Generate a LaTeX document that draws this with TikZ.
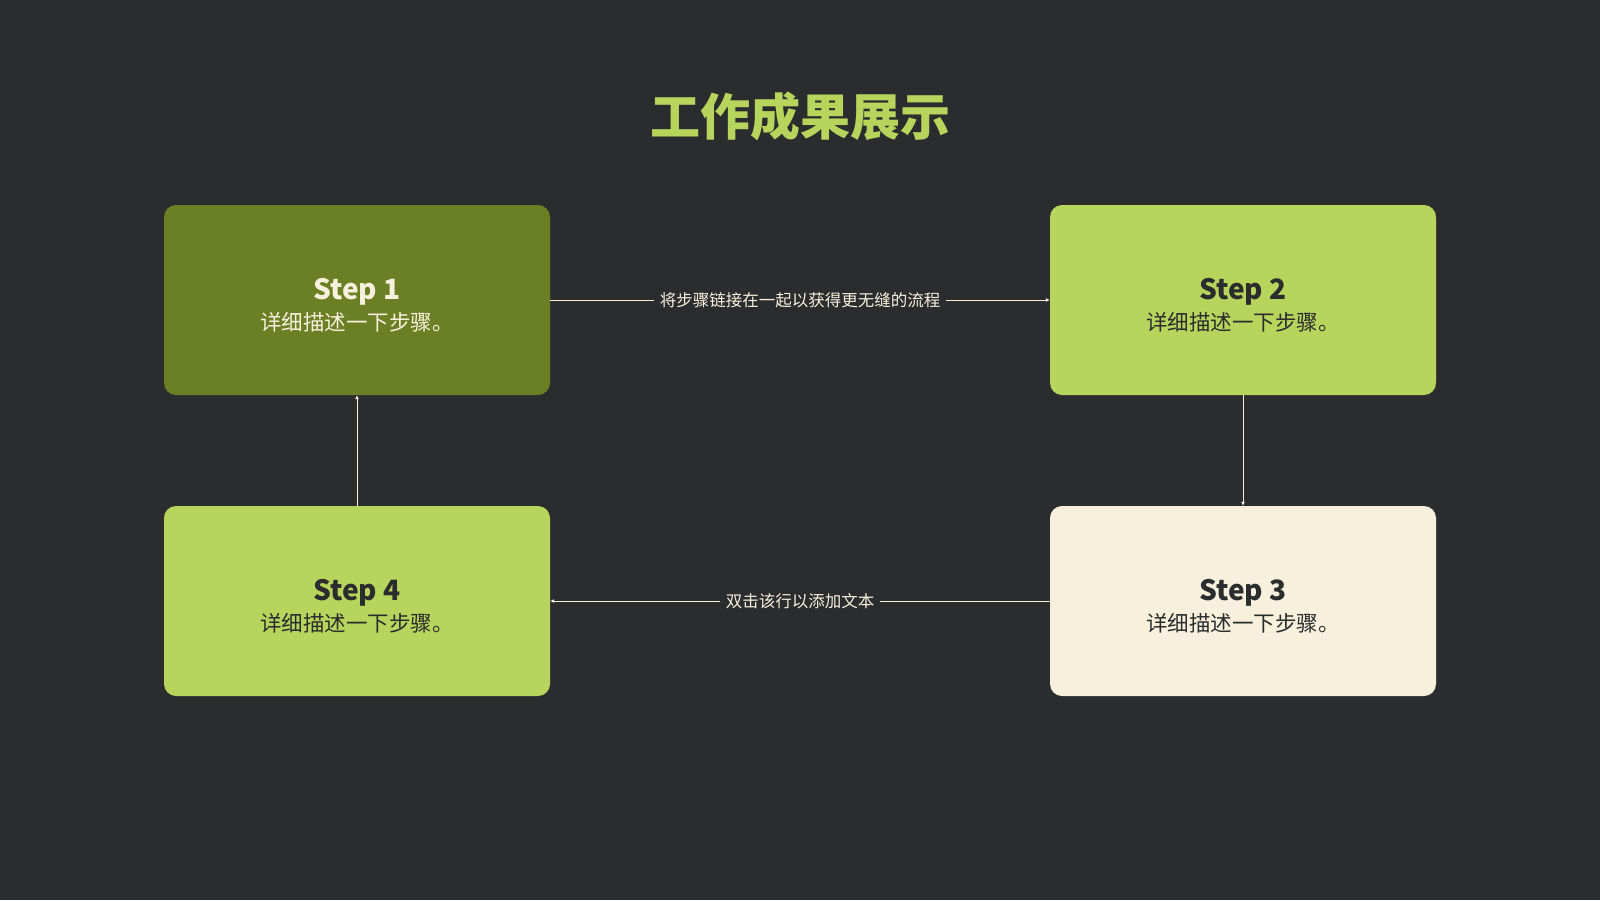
\documentclass[tikz,border=0pt]{standalone}
\usepackage{fontspec}
\usepackage{xcolor}
\usepackage{tikz}
\usetikzlibrary{arrows.meta}
\setmainfont{Noto Sans CJK SC}
\definecolor{bgdark}{HTML}{2B2C2E}
\definecolor{olive}{HTML}{6B7F25}
\definecolor{lime}{HTML}{B7D45C}
\definecolor{cream}{HTML}{F7F0DC}
\newcommand{\steptext}[1]{{\fontsize{28}{34}\selectfont\bfseries\rule{0pt}{32pt}Step #1}\\[6pt]{\fontsize{21.5}{26}\selectfont 详细描述一下步骤。}}

\begin{document}
\begin{tikzpicture}[x=1pt,y=-1pt,
    stepbox/.style={rounded corners=12pt, minimum width=386pt, minimum height=190pt,
        align=center, inner sep=0pt},
    flow/.style={cream, line width=0.9pt, -{Latex[length=4pt,width=4pt]}},
    flowlabel/.style={fill=bgdark, text=cream, font=\fontsize{16.5}{18}\selectfont, inner xsep=6pt}]
            \fill[bgdark] (0,0) rectangle (1600,900);
            \useasboundingbox (0,0) rectangle (1600,900);
            \node[text=lime, font=\fontsize{50}{54}\selectfont\bfseries] (title) at (800,116){工作成果展示};
            \node[stepbox, fill=olive, text=cream] (s1) at (357,300){\steptext{1}};
            \node[stepbox, fill=lime, text=bgdark] (s2) at (1243,300){\steptext{2}};
            \node[stepbox, fill=cream, text=bgdark] (s3) at (1243,601){\steptext{3}};
            \node[stepbox, fill=lime, text=bgdark] (s4) at (357,601){\steptext{4}};
            \draw[flow] (s1.east) -- node[flowlabel]{将步骤链接在一起以获得更无缝的流程} (s2.west);
            \draw[flow] (s2.south) -- (s3.north);
            \draw[flow] (s3.west) -- node[flowlabel]{双击该行以添加文本} (s4.east);
            \draw[flow] (s4.north) -- (s1.south);
        \end{tikzpicture}
\end{document}
